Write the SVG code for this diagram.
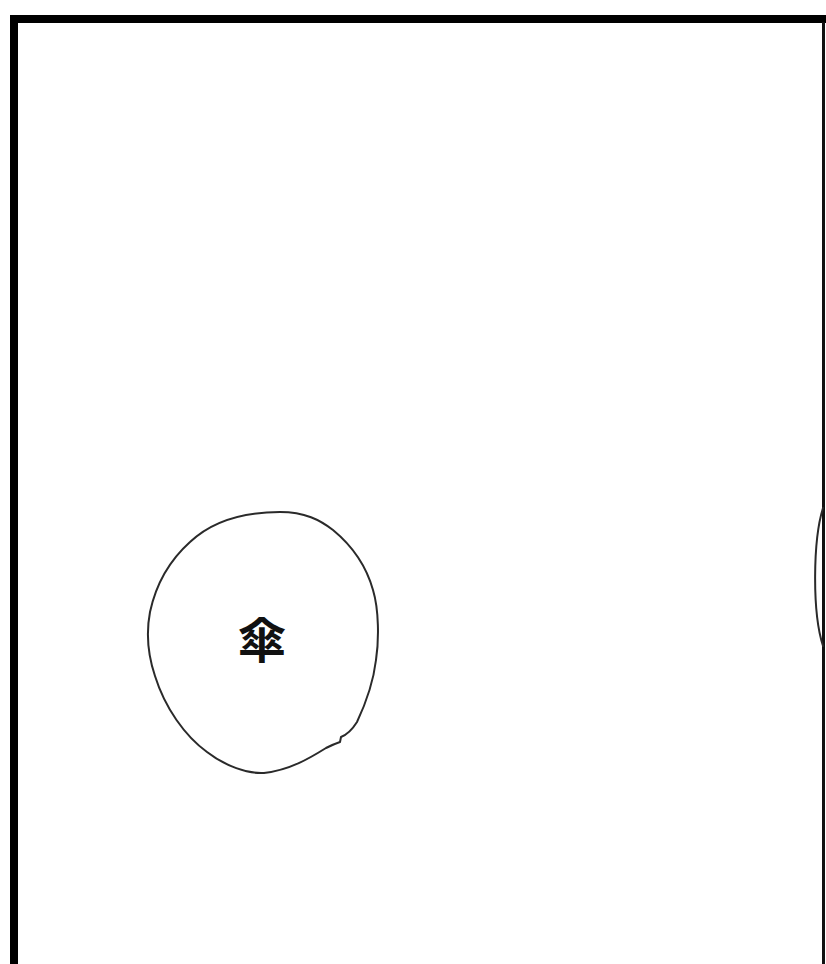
<svg xmlns="http://www.w3.org/2000/svg" width="826" height="964" viewBox="0 0 826 964">
<style>
.frame{fill:none;stroke:#000;stroke-width:8}
.edge{fill:none;stroke:#111;stroke-width:3}
.sketch{fill:none;stroke:#2a2a2a;stroke-width:2;stroke-linejoin:round;stroke-linecap:round}
.label{font-family:"Noto Sans CJK JP","Noto Sans CJK SC",sans-serif;font-size:48px;font-weight:bold;fill:#111;text-anchor:middle}
</style>
<rect width="826" height="964" fill="#fff"/>
<g id="frame">
<path class="frame" d="M14 970 L14 19 L830 19"/>
<path class="edge" d="M823.5 22 L823.5 970"/>
</g>
<g id="node-umbrella">
<path class="sketch" d="M280 512 C 305 512 320 520 333 530 C 350 544 366 565 373 590 C 379 610 379 640 376 660 C 373 685 365 705 357 722 C 352 730 346 735 341 737 L 340 742 C 334 744 330 746 326 748 C 310 758 290 770 264 773 C 248 774 225 766 207 752 C 185 736 165 708 155 676 C 148 655 146 633 150 612 C 156 584 170 560 190 542 C 210 523 240 512 280 512 Z"/>
<text class="label" x="262" y="658">傘</text>
</g>
<g id="node-right">
<path class="sketch" d="M823 508 C 813 540 812 612 823 646"/>
</g>
<g id="connectors"></g>
</svg>
